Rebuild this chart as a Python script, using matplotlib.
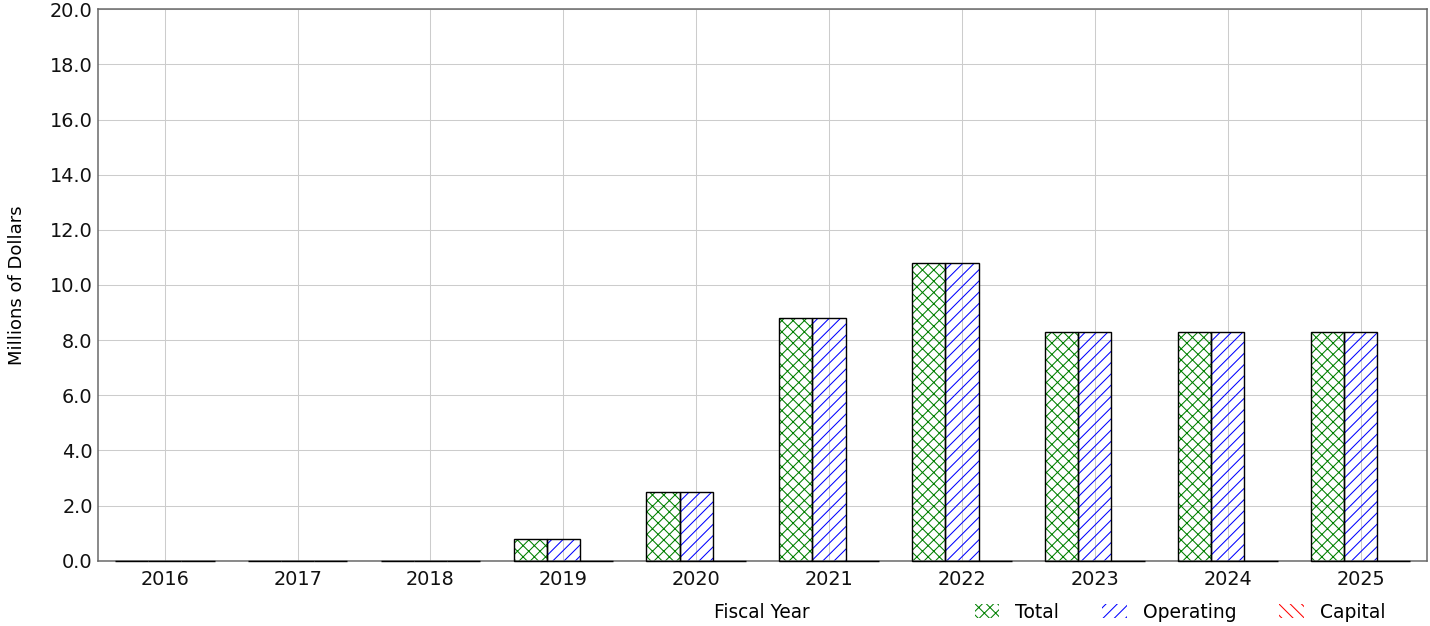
import numpy as np
import matplotlib
matplotlib.use("Agg")
import matplotlib.pyplot as plt

plt.rcParams['font.family'] = ['DejaVu Sans']
plt.rcParams['hatch.linewidth'] = 0.55

years = ['2016', '2017', '2018', '2019', '2020', '2021', '2022', '2023', '2024', '2025']
total = [0, 0, 0, 0.8, 2.5, 8.8, 10.8, 8.3, 8.3, 8.3]
operating = [0, 0, 0, 0.8, 2.5, 8.8, 10.8, 8.3, 8.3, 8.3]
capital = [0, 0, 0, 0, 0, 0, 0, 0, 0, 0]

series = [('Total', total, 'green', 'xxxx'),
          ('Operating', operating, 'blue', '////'),
          ('Capital', capital, 'red', '\\\\\\\\')]

dpi = 135
fig = plt.figure(figsize=(1430 / dpi, 626 / dpi), dpi=dpi)
ax = fig.add_axes([98.3 / 1430, 1 - 560.7 / 626, (1427 - 98.3) / 1430, (560.7 - 9.3) / 626])

x = np.arange(len(years))
w = 0.25
handles = []
for i, (name, vals, col, hatch) in enumerate(series):
    pos = x + (i - 1) * w
    # hatch only, no outline
    h = ax.bar(pos, vals, w, facecolor='none', edgecolor=col, hatch=hatch,
               linewidth=0, label=name, zorder=2)
    # black outline on top (zero bars show as a line on the axis)
    ax.bar(pos, vals, w, facecolor='none', edgecolor='black', linewidth=0.75,
           zorder=3, clip_on=False)
    handles.append(h)

ax.set_xlim(-0.5, len(years) - 0.5)
ax.set_ylim(0, 20)
ax.set_yticks(np.arange(0, 20.1, 2))
ax.set_yticklabels(['%.1f' % v for v in np.arange(0, 20.1, 2)])
ax.set_xticks(x)
ax.set_xticklabels(years)
ax.tick_params(length=0, labelsize=10.3, colors='#111111')
ax.tick_params(axis='y', pad=3)
ax.tick_params(axis='x', pad=5)
ax.grid(True, color='#cccccc', linewidth=0.55)
ax.set_axisbelow(True)
for s in ax.spines.values():
    s.set_color('#666666')
    s.set_linewidth(0.8)

fig.text(17 / 1430, 1 - 285 / 626, 'Millions of Dollars', fontsize=9.6,
         rotation=90, ha='center', va='center')
fig.text(762 / 1430, 1 - 613 / 626, 'Fiscal Year', fontsize=9.9, ha='center', va='center')

fig.legend(handles=handles, loc='center', bbox_to_anchor=(1180 / 1430, 1 - 612 / 626),
           ncol=3, frameon=False, fontsize=10, handlelength=1.3, handletextpad=0.85,
           columnspacing=2.3, borderpad=0)

fig.savefig('out.png', dpi=dpi)
